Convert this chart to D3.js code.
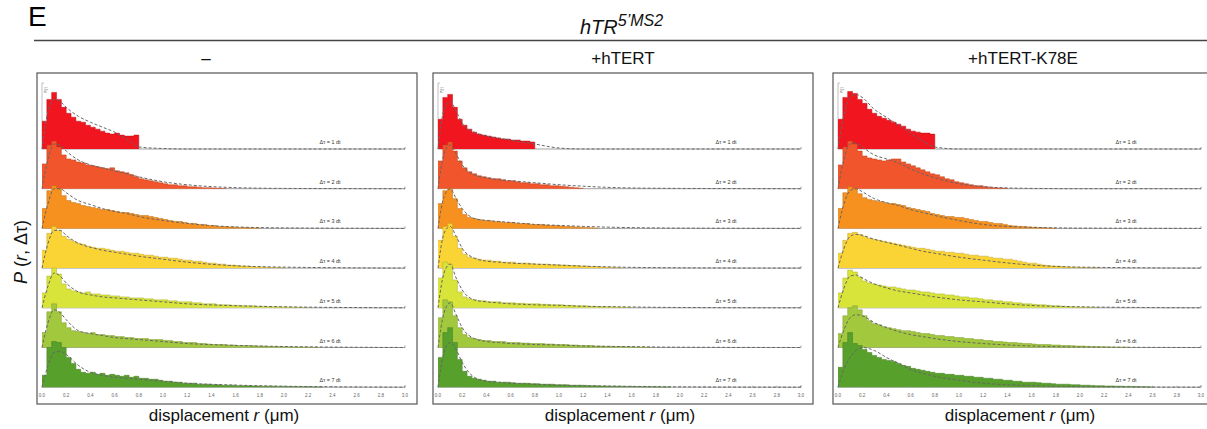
<!DOCTYPE html>
<html>
<head>
<meta charset="utf-8">
<title>hTR 5'MS2 displacement distributions</title>
<script src="https://cdn.jsdelivr.net/npm/d3@7/dist/d3.min.js"></script>
<style>
  body { margin: 0; background: #fff; }
  text { font-family: "Liberation Sans", Arial, sans-serif; }
  .tick_text { font-size: 4.5px; fill: #666; text-anchor: middle; }
  .lag_text { font-size: 5.4px; fill: #333; text-anchor: middle; }
  .cond_text { font-size: 17px; fill: #111; text-anchor: middle; }
  .xlab_text { font-size: 17px; fill: #111; text-anchor: middle; }
</style>
</head>
<body>
<svg id="chart" width="1207" height="429"></svg>
<script>
// ---- data ----
var conditions = ["\u2013", "+hTERT", "+hTERT-K78E"];
var lagLabels = ["\u0394\u03c4 = 1 dt", "\u0394\u03c4 = 2 dt", "\u0394\u03c4 = 3 dt", "\u0394\u03c4 = 4 dt",
                 "\u0394\u03c4 = 5 dt", "\u0394\u03c4 = 6 dt", "\u0394\u03c4 = 7 dt"];
var rowColors = ["#f0151f", "#f0552b", "#f6901f", "#fad434", "#d9e43a", "#a2c83d", "#58a02c"];
var binWidth = 0.04;   // µm
var xTicks = [0.0, 0.2, 0.4, 0.6, 0.8, 1.0, 1.2, 1.4, 1.6, 1.8, 2.0, 2.2, 2.4, 2.6, 2.8, 3.0];
var fitR = [0, 0.05, 0.1, 0.15, 0.2, 0.3, 0.4, 0.5, 0.6, 0.7, 0.8, 1.0, 1.2, 1.5, 2.0, 3.0];

// histogram heights per 0.04 µm bin, one list per lag (1..7 dt)
var minusHist = [
  [28,50,57,50,42,36,32,28,27,24,22,20,18,16,15,16,14,13,13,14],
  [25,44,48,42,34,30,29,27,26,24,23,22,21,20,21,18,17,16,14,12,10,9,8,7,6,5,4,4,3,3,2,2,1.5,1,1,0.7,0.5,0.3],
  [20,38,43,40,33,28,26,25,23,22,21,20,19,19,18,17,16,16,15,14,13,13,12,11,10,9,8,7,7,6,5,5,4,4,3,3,2,2,1.5,1.5,1,1,0.8,0.5,0.4],
  [18,35,42,38,32,29,27,25,24,22,21,20,20,19,18,17,17,16,15,15,14,13,13,12,11,11,10,10,9,8,8,7,7,6,5,5,4,4,3,3,2.5,2,2,1.5,1.2,1,0.8,0.6,0.5,0.3],
  [15,32,40,34,24,19,17,16,15,16,14,14,13,13,12,12,11,11,10,10,10,9,9,8,8,8,7,7,6,6,6,5,5,4,4,4,3,3,3,2.5,2.5,2,2,2,1.5,1.5,1.2,1,1,0.8,0.8,0.6,0.5,0.4,0.3],
  [15,36,44,36,25,20,17,16,15,14,15,13,13,12,12,11,11,10,10,9,9,9,8,8,8,7,7,6,6,5,5,5,4,4,3.5,3,3,3,2.5,2.5,2,2,2,1.8,1.5,1.5,1.2,1,1,0.8,0.8,0.6,0.5,0.5,0.4,0.3,0.3],
  [12,40,46,45,40,30,24,18,15,14,15,13,14,12,13,12,11,12,10,11,9,9,8,8,7,6,6,5,5,4,4,4,3,3,3,2.5,2.5,2,2,2,1.5,1.5,1.5,1.2,1.2,1,1,1,0.8,0.8,0.7,0.6,0.5,0.5,0.4,0.4,0.3,0.3]
];
var htertHist = [
  [30,52,55,42,30,24,20,17,15,14,13,12,11,10,10,9,9,8,8,7],
  [28,44,47,38,28,21,17,15,13,12,11,10,10,9,8,8,7,6,6,5,5,4,4,3,3,2.5,2,1.5,1,0.5],
  [25,38,40,30,20,14,11,10,9,8,8,7,7,6,6,6,5,5,5,4,4,4,3.5,3,3,2.5,2,2,1.5,1.2,1,0.6,0.4],
  [28,42,45,32,20,14,11,10,9,8,8,7,7,6,6,6,5,5,5,4.5,4,4,4,3.5,3.5,3,3,2.5,2.5,2,2,1.5,1.5,1.2,1,0.8,0.5,0.3],
  [30,46,44,28,16,11,9,8,7,7,6,6,6,5,5,5,4.5,4.5,4,4,4,3.5,3.5,3,3,3,2.5,2.5,2,2,2,1.5,1.5,1.2,1,1,0.8,0.6,0.5,0.3],
  [30,48,46,32,20,13,10,9,8,7,7,6,6,6,5,5,5,4.5,4.5,4,4,4,3.5,3.5,3,3,3,2.5,2.5,2,2,2,1.5,1.5,1.2,1.2,1,1,0.8,0.8,0.6,0.5,0.4,0.3],
  [30,55,60,45,28,16,11,9,8,7,6,6,5,5,5,4.5,4,4,4,3.5,3.5,3,3,3,2.5,2.5,2.5,2,2,2,1.8,1.5,1.5,1.2,1.2,1,1,1,0.8,0.8,0.7,0.6,0.5,0.5,0.4,0.4,0.3,0.3]
];
var k78eHist = [
  [30,52,58,56,50,46,40,36,33,31,29,27,25,23,20,18,17,16,16,15],
  [24,42,48,45,38,33,31,30,29,28,29,30,30,27,25,23,21,19,17,15,14,12,10,9,7,6,5,4,3,3,2,1.5,1,0.8,0.5],
  [20,36,42,40,35,31,29,28,27,26,25,25,24,23,21,20,19,18,17,15,14,13,12,12,11,11,10,9,8,7,7,6,5,5,4,3,2.5,2,2,1.5,1.2,1,0.8,0.5,0.3],
  [15,28,35,36,34,32,30,29,28,27,26,25,24,23,22,21,20,20,19,18,17,17,16,16,15,15,14,13,13,12,12,11,10,10,9,9,8,7,6,5,5,4,3,2.5,2,2,1.5,1.2,1,0.8,0.6,0.5,0.4,0.3],
  [15,30,38,36,31,27,25,24,23,22,21,21,20,19,18,18,17,16,16,15,14,14,13,13,12,11,11,10,10,9,8,8,7,7,6,6,5,5,4,4,3.5,3,3,2.5,2,2,1.5,1.2,1,0.8,0.6,0.5,0.4,0.3],
  [14,32,40,42,38,32,27,24,23,21,20,19,18,17,17,16,15,14,14,13,12,12,11,11,10,10,9,9,8,8,7,7,6,6,5.5,5,5,4.5,4,4,3.5,3,3,3,2.5,2.5,2,2,1.8,1.5,1.5,1.2,1,1,0.8,0.7,0.6,0.5,0.4,0.3],
  [20,45,55,44,42,38,35,32,30,28,27,26,24,22,21,19,18,17,16,15,14,14,13,13,12,12,11,11,10,10,9,9,8,8,7,7,6,6,5,5,5,4.5,4,4,3.5,3,3,3,2.5,2.5,2,2,1.8,1.5,1.5,1.2,1.2,1,1,0.8,0.8,0.6,0.5,0.4,0.3]
];

// dashed fit curves sampled at fitR
var minusFit = [
  [0,38,50,48,42,33,27,22,17,10,2,0.5,0,0,0,0],
  [0,30,45,44,38,29,24,21,18,15,12,7,4,1.5,0.3,0],
  [0,25,40,40,36,28,24,20,17,15,12,8,5,2,0.5,0],
  [0,25,38,38,33,25,21,18,16,14,12,9,6,3,1,0],
  [0,22,35,32,25,16,13,11,10,9,8,6,4,2.5,1,0],
  [0,25,38,35,28,17,14,12,10,9,8,6,4,2.5,1,0],
  [0,22,35,36,33,22,15,12,10,9,8,6,4,2.5,1,0]
];
var htertFit = [
  [0,40,48,38,26,17,13,11,9,7,5,1,0,0,0,0],
  [0,35,44,35,24,14,11,9,8,7,6,4,2.5,1,0.3,0],
  [0,32,40,30,20,10,8,7,6,5,4,3,2,1,0.3,0],
  [0,35,42,32,20,10,7,6,5,4.5,4,3,2,1,0.3,0],
  [0,35,44,30,18,8,6,5,4,3.5,3,2.5,1.5,1,0.3,0],
  [0,35,45,33,20,9,6,5,4,3.5,3,2.5,1.5,1,0.3,0],
  [0,35,45,38,25,10,6,5,4,3.5,3,2,1.5,1,0.3,0]
];
var k78eFit = [
  [0,35,52,55,52,40,32,24,16,8,2,0,0,0,0,0],
  [0,30,45,46,42,34,30,26,20,15,11,5,2,0.5,0,0],
  [0,25,38,40,37,30,26,23,19,16,13,8,4,1.5,0.3,0],
  [0,20,32,34,33,29,26,23,20,17,15,11,8,4,1,0],
  [0,20,32,33,30,24,20,17,15,13,11,8,6,3,1,0],
  [0,18,30,33,32,25,20,16,13,11,9,6,4,2,0.5,0],
  [0,18,30,37,40,37,30,24,18,14,11,7,4,2,0.5,0]
];

var panelHists = [minusHist, htertHist, k78eHist];
var panelFits = [minusFit, htertFit, k78eFit];

// ---- layout ----
var svg = d3.select("#chart");
var panelLeft = [37, 433, 833], panelW = 380;
var boxTop = 73, boxBottom = 404;
var firstBase = 149, rowStep = 39.7;

// figure letter and header
svg.append("text").attr("x", 28).attr("y", 26).style("font-size", "28px").text("E");
svg.append("line").attr("x1", 34).attr("x2", 1207).attr("y1", 40.5).attr("y2", 40.5)
  .attr("stroke", "#444").attr("stroke-width", 1.4);
var head = svg.append("text").attr("x", 580).attr("y", 34).style("font-size", "20px")
  .style("font-style", "italic").attr("fill", "#111");
head.append("tspan").text("hTR");
head.append("tspan").attr("dy", -8).style("font-size", "16px").text("5\u2019MS2");

// y label
var yl = svg.append("text").attr("transform", "translate(27,252) rotate(-90)")
  .attr("text-anchor", "middle").style("font-size", "18px").attr("fill", "#111");
yl.append("tspan").style("font-style", "italic").text("P");
yl.append("tspan").text(" (");
yl.append("tspan").style("font-style", "italic").text("r");
yl.append("tspan").text(", \u0394\u03c4)");

var y = d3.scaleLinear().domain([0, 40]).range([0, rowStep]);

panelLeft.forEach(function(left, p) {
  var g = svg.append("g");
  var x = d3.scaleLinear().domain([0, 3]).range([left + 5, left + 368]);

  g.append("rect").attr("x", left).attr("y", boxTop).attr("width", panelW).attr("height", boxBottom - boxTop)
    .attr("fill", "none").attr("stroke", "#555").attr("stroke-width", 1.2);

  svg.append("text").attr("class", "cond_text")
    .attr("x", p == 0 ? 206 : left + panelW / 2).attr("y", 64).text(conditions[p]);

  var xl = svg.append("text").attr("class", "xlab_text").attr("x", left + panelW / 2 - 3).attr("y", 421);
  xl.append("tspan").text("displacement ");
  xl.append("tspan").style("font-style", "italic").text("r");
  xl.append("tspan").text(" (\u03bcm)");

  // small P(r) axis on the first row
  g.append("line").attr("x1", x(0)).attr("x2", x(0)).attr("y1", 83).attr("y2", firstBase)
    .attr("stroke", "#999").attr("stroke-width", 0.6);
  g.append("line").attr("x1", x(0)).attr("x2", x(0) + 2).attr("y1", 83).attr("y2", 83)
    .attr("stroke", "#999").attr("stroke-width", 0.6);
  g.append("text").attr("transform", "translate(" + (x(0) + 5) + ",90) rotate(-90)")
    .attr("text-anchor", "middle").style("font-size", "3.5px").attr("fill", "#666").text("P(r)");

  panelHists[p].forEach(function(vals, k) {
    var base = firstBase + k * rowStep;
    var pts = vals.map(function(v, i) { return [i * binWidth, v]; });
    pts.push([vals.length * binWidth, 0]);

    var area = d3.area().curve(d3.curveStepAfter)
      .x(function(d) { return x(d[0]); })
      .y0(base).y1(function(d) { return base - y(d[1]); });
    var line = d3.line().curve(d3.curveStepAfter)
      .x(function(d) { return x(d[0]); })
      .y(function(d) { return base - y(d[1]); });

    // baseline with small end hook
    g.append("path").attr("d", "M" + x(0) + "," + base + "H" + x(3) + "V" + (base - 2))
      .attr("fill", "none").attr("stroke", "#888").attr("stroke-width", 0.8);

    g.append("path").datum(pts).attr("d", area).attr("fill", rowColors[k]);
    g.append("path").datum(pts).attr("d", line).attr("fill", "none")
      .attr("stroke", d3.color(rowColors[k]).darker(0.7)).attr("stroke-width", 0.5);

    var fit = d3.line().curve(d3.curveMonotoneX)
      .x(function(d, i) { return x(fitR[i]); })
      .y(function(d) { return base - y(d); });
    g.append("path").datum(panelFits[p][k]).attr("d", fit).attr("fill", "none")
      .attr("stroke", "#666").attr("stroke-width", 1).attr("stroke-dasharray", "3,2");

    g.append("text").attr("class", "lag_text").attr("x", x(2.38)).attr("y", base - 5).text(lagLabels[k]);
  });

  // bottom ticks and labels
  var lastBase = firstBase + 6 * rowStep;
  g.selectAll(".tk").data(xTicks).enter().append("line")
    .attr("x1", function(d) { return x(d); }).attr("x2", function(d) { return x(d); })
    .attr("y1", lastBase).attr("y2", lastBase - 1.5).attr("stroke", "#888").attr("stroke-width", 0.6);
  g.selectAll(".tick_text").data(xTicks).enter().append("text").attr("class", "tick_text")
    .attr("x", function(d) { return x(d); }).attr("y", lastBase + 10)
    .text(function(d) { return d.toFixed(1); });
});
</script>
</body>
</html>
